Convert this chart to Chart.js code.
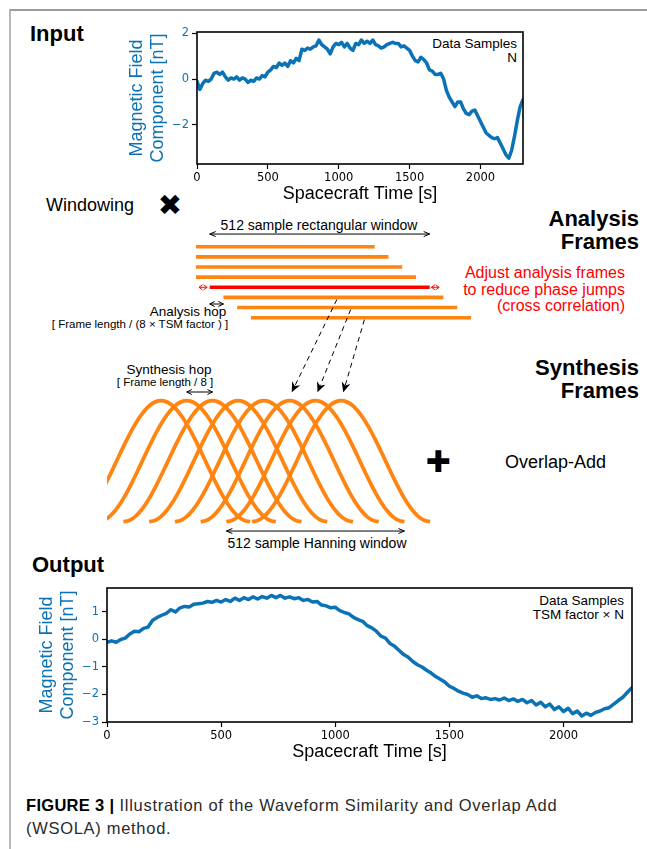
<!DOCTYPE html>
<html><head><meta charset="utf-8">
<script src="https://cdn.jsdelivr.net/npm/chart.js@4.4.1/dist/chart.umd.min.js"></script>
<style>
html,body{margin:0;padding:0;background:#fff;}
body{width:647px;height:849px;position:relative;overflow:hidden;font-family:"Liberation Sans",Arial,sans-serif;color:#000;}
.border{position:absolute;left:9px;top:9px;width:660px;height:860px;border-left:2px solid #b9b9b9;border-top:2px solid #9c9c9c;}
.t{position:absolute;white-space:nowrap;line-height:1;}
.c{transform:translate(-50%,-50%);text-align:center;}
.l{transform:translate(0,-50%);}
.r{transform:translate(-100%,-50%);text-align:right;}
.b{font-weight:bold;font-size:22px;}
.cap{font-size:16.5px;letter-spacing:0.7px;color:#2a2a2a;}
canvas{position:absolute;}
</style></head><body>
<div class="border"></div>

<div class="t l b" style="left:30px;top:34px;">Input</div>
<div class="t r" style="left:517px;top:51px;font-size:13.5px;line-height:14px;">Data Samples<br>N</div>

<div class="t l" style="left:46px;top:205px;font-size:18px;">Windowing</div>
<div class="t c" style="left:170px;top:205px;font-size:29px;font-family:'DejaVu Sans';">&#10006;</div>
<div class="t c" style="left:319px;top:225px;font-size:14px;">512 sample rectangular window</div>
<div class="t r b" style="left:639px;top:230px;line-height:23px;">Analysis<br>Frames</div>
<div class="t r" style="left:625px;top:290px;font-size:16px;line-height:16.5px;color:#ff0000;">Adjust analysis frames<br>to reduce phase jumps<br>(cross correlation)</div>
<div class="t c" style="left:188px;top:312px;font-size:13.5px;">Analysis hop</div>
<div class="t c" style="left:140px;top:325px;font-size:11.5px;">[ Frame length / (8 &times; TSM factor ) ]</div>

<div class="t r b" style="left:639px;top:379px;line-height:23px;">Synthesis<br>Frames</div>
<div class="t c" style="left:169px;top:370px;font-size:13.5px;">Synthesis hop</div>
<div class="t c" style="left:165px;top:383px;font-size:11.5px;">[ Frame length / 8 ]</div>
<div class="t c" style="left:438px;top:462px;font-size:30px;font-family:'DejaVu Sans';">&#10010;</div>
<div class="t l" style="left:505px;top:462px;font-size:18px;">Overlap-Add</div>
<div class="t c" style="left:317px;top:543px;font-size:14px;">512 sample Hanning window</div>

<div class="t l b" style="left:32px;top:565px;">Output</div>
<div class="t r" style="left:624px;top:608px;font-size:13.5px;line-height:14px;">Data Samples<br>TSM factor &times; N</div>

<div class="t l cap" style="left:26px;top:805px;"><b style="color:#000;letter-spacing:0.3px">FIGURE 3 |</b> Illustration of the Waveform Similarity and Overlap Add</div>
<div class="t l cap" style="left:26px;top:828px;">(WSOLA) method.</div>

<canvas id="cIn" width="420" height="190" style="left:120px;top:20px;width:420px;height:190px;"></canvas>
<canvas id="cMid" width="383" height="360" style="left:107px;top:195px;width:383px;height:360px;"></canvas>
<canvas id="cOut" width="617" height="195" style="left:30px;top:575px;width:617px;height:195px;"></canvas>

<script>
// ---------- data ----------
const sampleTime = [
  0,20,40,60,80,100,120,140,160,180,
  200,220,240,260,280,300,320,340,360,380,
  400,420,440,460,480,500,520,540,560,580,
  600,620,640,660,680,700,720,740,760,780,
  800,820,840,860,880,900,920,940,960,980,
  1000,1020,1040,1060,1080,1100,1120,1140,1160,1180,
  1200,1220,1240,1260,1280,1300,1320,1340,1360,1380,
  1400,1420,1440,1460,1480,1500,1520,1540,1560,1580,
  1600,1620,1640,1660,1680,1700,1720,1740,1760,1780,
  1800,1820,1840,1860,1880,1900,1920,1940,1960,1980,
  2000,2020,2040,2060,2080,2100,2120,2140,2160,2180,
  2200,2220,2240,2260,2280,2300];

const inputField = [
  -0.1,-0.45,-0.2,-0.05,-0.1,0.0,0.25,0.3,0.2,0.3,
  0.1,-0.05,0.05,0.0,0.1,-0.05,0.05,0.0,-0.15,-0.05,
  -0.1,0.05,0.0,0.15,0.1,0.3,0.4,0.55,0.5,0.7,
  0.6,0.7,0.55,0.8,0.7,0.9,0.8,1.3,1.25,1.35,
  1.3,1.4,1.45,1.7,1.5,1.4,1.3,1.1,1.4,1.55,
  1.5,1.6,1.4,1.55,1.35,1.25,1.55,1.5,1.7,1.55,
  1.65,1.55,1.7,1.5,1.45,1.35,1.4,1.5,1.55,1.6,
  1.55,1.55,1.4,1.45,1.35,1.25,1.0,0.8,0.75,0.95,
  0.85,0.7,0.4,0.35,0.2,0.2,0.25,0.0,-0.5,-0.8,
  -1.0,-1.2,-1.0,-1.0,-1.3,-1.5,-1.55,-1.4,-1.35,-1.6,
  -1.85,-2.1,-2.35,-2.45,-2.55,-2.6,-2.55,-2.8,-3.05,-3.3,
  -3.45,-3.1,-2.5,-1.8,-1.2,-0.9];

const outputField = [
  -0.1,-0.05,-0.1,0.0,0.05,0.2,0.3,0.28,0.4,0.45,
  0.7,0.8,0.88,0.95,1.08,1.0,1.15,1.2,1.18,1.28,
  1.3,1.32,1.38,1.35,1.42,1.36,1.45,1.38,1.5,1.42,
  1.52,1.45,1.55,1.47,1.56,1.5,1.6,1.52,1.6,1.5,
  1.55,1.48,1.52,1.42,1.45,1.36,1.38,1.25,1.22,1.15,
  1.17,1.05,0.98,0.93,0.8,0.72,0.66,0.5,0.42,0.3,
  0.12,0.05,-0.15,-0.25,-0.4,-0.55,-0.65,-0.8,-0.92,-1.0,
  -1.12,-1.22,-1.35,-1.45,-1.55,-1.7,-1.78,-1.88,-1.95,-2.0,
  -2.1,-2.05,-2.15,-2.12,-2.18,-2.15,-2.2,-2.13,-2.22,-2.16,
  -2.25,-2.18,-2.3,-2.22,-2.38,-2.28,-2.45,-2.35,-2.55,-2.45,
  -2.62,-2.5,-2.7,-2.6,-2.78,-2.68,-2.76,-2.65,-2.6,-2.52,
  -2.48,-2.35,-2.22,-2.1,-1.92,-1.75];

const timeTicks = [0, 500, 1000, 1500, 2000];
const inputTicks = [-2, 0, 2];
const outputTicks = [-3, -2, -1, 0, 1];

// analysis frames (in samples), frame 4 is the adjusted (red) one
const frameStart = [96, 96, 96, 96, 128, 160, 192, 224];
const frameEnd   = [512, 544, 576, 608, 640, 672, 704, 736];
const adjustedFrame = 4;

// synthesis frames: Hanning window shape (33 samples over 512), hop in samples
const hannShape = [0,0.0096,0.0381,0.0843,0.1464,0.2222,0.3087,0.4025,0.5,
  0.5975,0.6913,0.7778,0.8536,0.9157,0.9619,0.9904,1,
  0.9904,0.9619,0.9157,0.8536,0.7778,0.6913,0.5975,0.5,
  0.4025,0.3087,0.2222,0.1464,0.0843,0.0381,0.0096,0];
const windowLength = 512;
const synthesisHop = 74;
const windowIndex = [0,1,2,3,4,5,6,7];
const linkedFrames = [5, 6, 7];

// ---------- styles ----------
const BLUE = '#0b72b5';
const ORANGE = '#ff8410';
const RED = '#ff0000';
const fmt = v => v < 0 ? '\u2212' + Math.abs(v) : String(v);

const boxPlugin = {
  id: 'box',
  afterDraw(chart) {
    const {ctx, chartArea: a} = chart;
    ctx.save();
    ctx.strokeStyle = '#000';
    ctx.lineWidth = 1.6;
    ctx.strokeRect(a.left, a.top, a.right - a.left, a.bottom - a.top);
    ctx.restore();
  }
};

function seriesChart(id, vals, yTicks, cfg) {
  return new Chart(document.getElementById(id), {
    type: 'line',
    data: { datasets: [{
      data: sampleTime.map((t, i) => ({x: t, y: vals[i]})),
      borderColor: BLUE, borderWidth: 3.5, pointRadius: 0, tension: 0,
      borderJoinStyle: 'round', borderCapStyle: 'round', clip: 0
    }]},
    options: {
      responsive: false, animation: false, devicePixelRatio: 1,
      layout: { padding: cfg.padding },
      plugins: { legend: {display: false}, tooltip: {enabled: false} },
      events: [],
      scales: {
        x: {
          type: 'linear', min: 0, max: 2300,
          afterFit: s => { s.height = cfg.xh; },
          afterBuildTicks: s => { s.ticks = timeTicks.map(v => ({value: v})); },
          grid: {drawOnChartArea: false, drawTicks: true, tickLength: 5, tickColor: '#000', tickWidth: 1.2},
          border: {display: false},
          ticks: {color: '#000', font: {family: 'DejaVu Sans', size: 11.5}, padding: 2, maxRotation: 0, autoSkip: false, callback: fmt},
          title: {display: true, text: 'Spacecraft Time [s]', color: '#000',
                  font: {family: 'Liberation Sans', size: 18, lineHeight: '21px'},
                  padding: {top: 0, bottom: cfg.xtp}}
        },
        y: {
          type: 'linear', min: cfg.ymin, max: cfg.ymax,
          afterFit: s => { s.width = 77; },
          afterBuildTicks: s => { s.ticks = yTicks.map(v => ({value: v})); },
          grid: {drawOnChartArea: false, drawTicks: true, tickLength: 5, tickColor: '#000', tickWidth: 1.2},
          border: {display: false},
          ticks: {color: BLUE, font: {family: 'DejaVu Sans', size: 11.5}, padding: 3, autoSkip: false, callback: fmt},
          title: {display: true, text: ['Magnetic Field', 'Component [nT]'], color: BLUE,
                  font: {family: 'Liberation Sans', size: 18, lineHeight: '21px'},
                  padding: {top: 6.5, bottom: 0}}
        }
      }
    },
    plugins: [boxPlugin]
  });
}

seriesChart('cIn', inputField, inputTicks,
  {padding: {left: 0, top: 12, right: 17, bottom: 0}, xh: 46, xtp: 5.5, ymin: -3.7, ymax: 2.05});
seriesChart('cOut', outputField, outputTicks,
  {padding: {left: 0, top: 13, right: 15, bottom: 0}, xh: 48, xtp: 7.5, ymin: -3, ymax: 1.87});

// ---------- diagram ----------
function head(ctx, x1, y1, x2, y2, len, half, filled) {
  const ang = Math.atan2(y2 - y1, x2 - x1);
  const bx = x2 - len * Math.cos(ang), by = y2 - len * Math.sin(ang);
  const px = -Math.sin(ang) * half, py = Math.cos(ang) * half;
  ctx.beginPath();
  if (filled) {
    ctx.moveTo(x2, y2); ctx.lineTo(bx + px, by + py);
    ctx.lineTo(x2 - 0.7 * len * Math.cos(ang), y2 - 0.7 * len * Math.sin(ang));
    ctx.lineTo(bx - px, by - py); ctx.closePath(); ctx.fill();
  } else {
    ctx.moveTo(bx + px, by + py); ctx.lineTo(x2, y2); ctx.lineTo(bx - px, by - py); ctx.stroke();
  }
}
function dbl(ctx, xa, xb, y, color, len, half) {
  ctx.strokeStyle = color; ctx.fillStyle = color; ctx.lineWidth = 1; ctx.setLineDash([]);
  ctx.beginPath(); ctx.moveTo(xa, y); ctx.lineTo(xb, y); ctx.stroke();
  head(ctx, xb, y, xa, y, len, half, false);
  head(ctx, xa, y, xb, y, len, half, false);
}

const diagramPlugin = {
  id: 'diagram',
  afterDatasetsDraw(chart) {
    const {ctx, scales: {xA, yA, xS, yS}} = chart;
    ctx.save();
    // 512 sample rectangular window
    dbl(ctx, xA.getPixelForValue(frameStart[adjustedFrame]), xA.getPixelForValue(frameEnd[adjustedFrame]),
        yA.getPixelForValue(-1.25), '#000', 6, 2.5);
    // analysis hop
    dbl(ctx, xA.getPixelForValue(frameStart[adjustedFrame]), xA.getPixelForValue(frameStart[adjustedFrame + 1]),
        yA.getPixelForValue(5.65), '#000', 5, 2.5);
    // frame adjustment (red)
    const ry = yA.getPixelForValue(adjustedFrame);
    dbl(ctx, xA.getPixelForValue(frameStart[adjustedFrame] - 25), xA.getPixelForValue(frameStart[adjustedFrame] - 6), ry, RED, 3.5, 2.5);
    dbl(ctx, xA.getPixelForValue(frameEnd[adjustedFrame] + 4), xA.getPixelForValue(frameEnd[adjustedFrame] + 22), ry, RED, 3.5, 2.5);
    // dashed links analysis -> synthesis
    ctx.strokeStyle = '#000'; ctx.fillStyle = '#000'; ctx.lineWidth = 1;
    linkedFrames.forEach(k => {
      const x1 = xA.getPixelForValue((frameStart[k] + frameEnd[k]) / 2 + 8), y1 = yA.getPixelForValue(k) + 2;
      const x2 = xS.getPixelForValue(k * synthesisHop + windowLength / 2 + 6), y2 = yS.getPixelForValue(1.07);
      const ang = Math.atan2(y2 - y1, x2 - x1);
      ctx.setLineDash([5, 4]);
      ctx.beginPath(); ctx.moveTo(x1, y1);
      ctx.lineTo(x2 - 7 * Math.cos(ang), y2 - 7 * Math.sin(ang)); ctx.stroke();
      ctx.setLineDash([]);
      head(ctx, x1, y1, x2, y2, 10, 4.5, true);
    });
    // synthesis hop
    const sy = yS.getPixelForValue(1.072);
    dbl(ctx, xS.getPixelForValue(synthesisHop + windowLength / 2), xS.getPixelForValue(2 * synthesisHop + windowLength / 2), sy, '#000', 5, 2.5);
    // Hanning window length
    dbl(ctx, xS.getPixelForValue(6 * synthesisHop), xS.getPixelForValue(6 * synthesisHop + windowLength),
        yS.getPixelForValue(-0.077), '#000', 6, 2.5);
    ctx.restore();
  }
};

const midSets = [];
frameStart.forEach((s, k) => {
  midSets.push({
    data: [{x: s, y: k}, {x: frameEnd[k], y: k}],
    xAxisID: 'xA', yAxisID: 'yA',
    borderColor: k === adjustedFrame ? RED : ORANGE, borderWidth: 3.6,
    borderCapStyle: 'butt', pointRadius: 0, clip: 0
  });
});
windowIndex.forEach(j => {
  midSets.push({
    data: hannShape.map((v, i) => ({x: j * synthesisHop + i * windowLength / (hannShape.length - 1), y: v})),
    xAxisID: 'xS', yAxisID: 'yS',
    borderColor: ORANGE, borderWidth: 3.8, cubicInterpolationMode: 'monotone',
    borderCapStyle: 'butt', pointRadius: 0, clip: 0
  });
});

new Chart(document.getElementById('cMid'), {
  type: 'line',
  data: { datasets: midSets },
  options: {
    responsive: false, animation: false, devicePixelRatio: 1, events: [],
    layout: {padding: 0},
    plugins: {legend: {display: false}, tooltip: {enabled: false}},
    scales: {
      xA: {axis: 'x', type: 'linear', display: false, min: -111, max: 780.3},
      yA: {axis: 'y', type: 'linear', display: false, min: -5.10, max: 30.40, reverse: true},
      xS: {axis: 'x', type: 'linear', display: false, min: 100.7, max: 1202},
      yS: {axis: 'y', type: 'linear', display: false, min: -0.275, max: 2.70}
    }
  },
  plugins: [diagramPlugin]
});
</script>
</body></html>
